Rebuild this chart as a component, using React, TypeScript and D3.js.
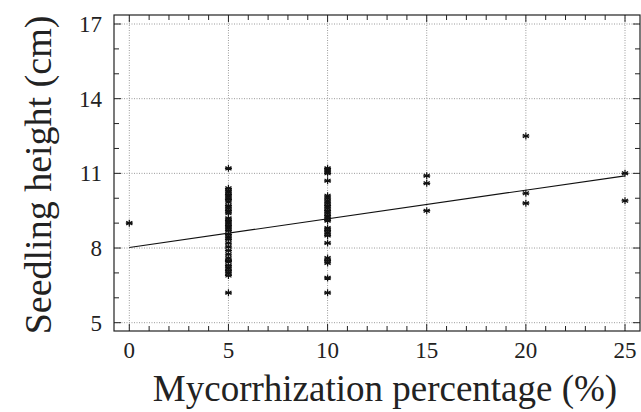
import { useEffect, useRef } from "react";
import * as d3 from "d3";

// mycorrhization percentage groups and seedling heights (cm)
const dose = [0, 5, 10, 15, 20, 25];
const heights: number[][] = [
  [9.0],
  [
    11.2, 10.4, 10.3, 10.25, 10.15, 10.1, 10.0, 9.95, 9.85, 9.7, 9.6, 9.5, 9.4,
    9.2, 9.1, 9.0, 8.9, 8.8, 8.7, 8.55, 8.45, 8.35, 8.2, 8.05, 7.9, 7.75, 7.6,
    7.5, 7.45, 7.3, 7.2, 7.1, 7.0, 6.9, 6.2,
  ],
  [
    11.2, 11.1, 11.0, 10.7, 10.1, 10.0, 9.9, 9.8, 9.7, 9.6, 9.5, 9.4, 9.3, 9.2,
    9.1, 8.8, 8.7, 8.6, 8.5, 8.2, 7.6, 7.5, 7.4, 6.8, 6.2,
  ],
  [10.9, 10.6, 9.5],
  [12.5, 10.2, 9.8],
  [11.0, 9.9],
];
// fitted line end points
const fitX = [0, 25];
const fitY = [8.02, 10.9];

const xTicks = [0, 5, 10, 15, 20, 25];
const yTicks = [5, 8, 11, 14, 17];

const W = 641;
const H = 412;
const frame = { left: 114, right: 640, top: 15, bottom: 331 };
const serif = "Tinos, Times, 'Nimbus Roman', 'Nimbus Roman No9 L', FreeSerif, 'Liberation Serif', serif";

export default function App() {
  const svgRef = useRef<SVGSVGElement | null>(null);

  useEffect(() => {
    const svg = d3.select(svgRef.current);
    svg.selectAll("*").remove();

    const x = d3.scaleLinear().domain([0, 25]).range([129.3, 625]);
    const y = d3.scaleLinear().domain([5, 17]).range([322.7, 24]);

    const g = svg.append("g").style("font-family", serif);

    // dotted grid
    g.append("g")
      .selectAll("line")
      .data(xTicks)
      .join("line")
      .attr("x1", (d) => x(d))
      .attr("x2", (d) => x(d))
      .attr("y1", frame.top)
      .attr("y2", frame.bottom)
      .attr("stroke", "#9a9a9a")
      .attr("stroke-width", 1)
      .attr("stroke-dasharray", "1,1.5");
    g.append("g")
      .selectAll("line")
      .data(yTicks)
      .join("line")
      .attr("x1", frame.left)
      .attr("x2", frame.right)
      .attr("y1", (d) => y(d))
      .attr("y2", (d) => y(d))
      .attr("stroke", "#9a9a9a")
      .attr("stroke-width", 1)
      .attr("stroke-dasharray", "1,1.5");

    // ticks, inward on all four sides
    const xMinor = d3.range(0, 26);
    const yMinor = d3.range(5, 18);
    const tk = g.append("g").attr("stroke", "#222").attr("stroke-width", 1);
    xMinor.forEach((v) => {
      const len = v % 5 === 0 ? 7 : 5;
      tk.append("line").attr("x1", x(v)).attr("x2", x(v)).attr("y1", frame.bottom).attr("y2", frame.bottom - len);
      tk.append("line").attr("x1", x(v)).attr("x2", x(v)).attr("y1", frame.top).attr("y2", frame.top + len);
    });
    yMinor.forEach((v) => {
      const len = (v - 5) % 3 === 0 ? 7 : 5;
      tk.append("line").attr("y1", y(v)).attr("y2", y(v)).attr("x1", frame.left).attr("x2", frame.left + len);
      tk.append("line").attr("y1", y(v)).attr("y2", y(v)).attr("x1", frame.right).attr("x2", frame.right - len);
    });

    // frame
    g.append("rect")
      .attr("x", frame.left)
      .attr("y", frame.top)
      .attr("width", frame.right - frame.left)
      .attr("height", frame.bottom - frame.top)
      .attr("fill", "none")
      .attr("stroke", "#222")
      .attr("stroke-width", 1.2);

    // fit line
    const line = d3
      .line<number>()
      .x((_, i) => x(fitX[i]))
      .y((d) => y(d));
    g.append("path")
      .datum(fitY)
      .attr("d", line)
      .attr("fill", "none")
      .attr("stroke", "#111")
      .attr("stroke-width", 1.2);

    // asterisk points
    const pts = dose.flatMap((dv, i) => heights[i].map((h) => ({ dv, h })));
    const r = 3.5;
    const star = `M0,${-r}V${r}M${-r * 0.87},${-r / 2}L${r * 0.87},${r / 2}M${-r * 0.87},${r / 2}L${r * 0.87},${-r / 2}M${-r},0H${r}`;
    g.append("g")
      .selectAll("path")
      .data(pts)
      .join("path")
      .attr("transform", (d) => `translate(${x(d.dv)},${y(d.h)})`)
      .attr("d", star)
      .attr("fill", "none")
      .attr("stroke", "#111")
      .attr("stroke-width", 1.2);

    // tick labels
    g.append("g")
      .selectAll("text")
      .data(yTicks)
      .join("text")
      .attr("x", 102)
      .attr("y", (d) => y(d) + 8)
      .attr("text-anchor", "end")
      .attr("font-size", 23)
      .attr("fill", "#222")
      .text((d) => d);
    g.append("g")
      .selectAll("text")
      .data(xTicks)
      .join("text")
      .attr("x", (d) => x(d))
      .attr("y", 358)
      .attr("text-anchor", "middle")
      .attr("font-size", 23)
      .attr("fill", "#222")
      .text((d) => d);

    // axis titles
    g.append("text")
      .attr("x", 385)
      .attr("y", 401)
      .attr("text-anchor", "middle")
      .attr("font-size", 37)
      .attr("fill", "#222")
      .text("Mycorrhization percentage (%)");
    g.append("text")
      .attr("transform", `translate(51,175) rotate(-90)`)
      .attr("text-anchor", "middle")
      .attr("font-size", 38)
      .attr("fill", "#222")
      .text("Seedling height (cm)");
  }, []);

  return (
    <svg
      ref={svgRef}
      width={W}
      height={H}
      style={{ position: "absolute", left: 0, top: 0, background: "#fff" }}
    />
  );
}
